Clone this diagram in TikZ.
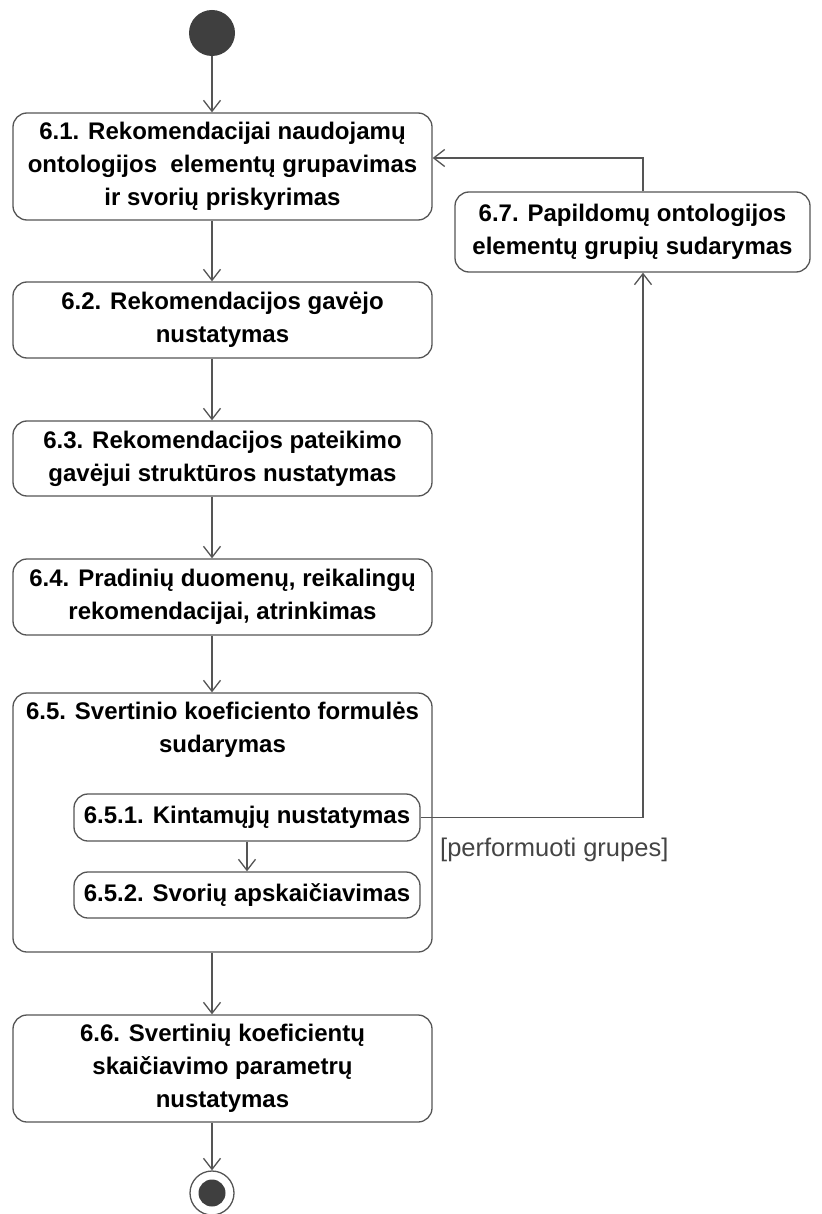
\documentclass[tikz,border=0pt]{standalone}
\usepackage{fontspec}
\setmainfont{Liberation Sans}
\usetikzlibrary{arrows.meta}
\definecolor{linec}{HTML}{555555}
\definecolor{dotc}{HTML}{3F3F3F}
\definecolor{labelc}{HTML}{444444}
\begin{document}
\begin{tikzpicture}[x=1pt,y=-1pt,
  act/.style={draw=linec, line width=1.3pt, rounded corners=14pt, fill=white,
    align=center, inner sep=0pt, font=\bfseries\fontsize{24}{33}\selectfont},
  title/.style={align=center, inner sep=0pt, font=\bfseries\fontsize{24}{33}\selectfont},
  flow/.style={draw=linec, line width=1.3pt, -{Straight Barb[length=11pt,width=17pt,line width=1.3pt]}},
  guard/.style={text=labelc, inner sep=0pt, anchor=base west, font=\fontsize{25.5}{28}\selectfont}
]
\useasboundingbox (0,0) rectangle (821,1214);

% initial and final states
\node (start) [circle, fill=dotc, minimum size=46pt, inner sep=0pt] at (212,33) {};
\node (stop) [circle, draw=linec, line width=1.3pt, fill=white, minimum size=44pt, inner sep=0pt] at (212,1193) {};
\node (stopdot) [circle, fill=dotc, minimum size=27pt, inner sep=0pt] at (212,1193) {};

% activities
\node (b61) [act, minimum width=419pt, minimum height=107pt] at (222.5,166.5)
  {6.1. Rekomendacijai naudojamų\\ontologijos\ \ elementų grupavimas\\ir svorių priskyrimas};
\node (b62) [act, minimum width=419pt, minimum height=76pt] at (222.5,320)
  {6.2. Rekomendacijos gavėjo\\nustatymas};
\node (b63) [act, minimum width=419pt, minimum height=75pt] at (222.5,458.5)
  {6.3. Rekomendacijos pateikimo\\gavėjui struktūros nustatymas};
\node (b64) [act, minimum width=419pt, minimum height=76pt] at (222.5,597)
  {6.4. Pradinių duomenų, reikalingų\\rekomendacijai, atrinkimas};
\node (b65) [act, minimum width=419pt, minimum height=259pt] at (222.5,822.5) {};
\node (t65) [title] at (222.5,730) {6.5. Svertinio koeficiento formulės\\sudarymas};
\node (b651) [act, minimum width=346pt, minimum height=47pt] at (247,817.5)
  {6.5.1. Kintamųjų nustatymas};
\node (b652) [act, minimum width=346pt, minimum height=46pt] at (247,895)
  {6.5.2. Svorių apskaičiavimas};
\node (b66) [act, minimum width=419pt, minimum height=107pt] at (222.5,1068.5)
  {6.6. Svertinių koeficientų\\skaičiavimo parametrų\\nustatymas};
\node (b67) [act, minimum width=355pt, minimum height=80pt] at (632.5,232)
  {6.7. Papildomų ontologijos\\elementų grupių sudarymas};

% control flow
\draw[flow] (start.south) -- (start.south |- b61.north);
\draw[flow] (start.south |- b61.south) -- (start.south |- b62.north);
\draw[flow] (start.south |- b62.south) -- (start.south |- b63.north);
\draw[flow] (start.south |- b63.south) -- (start.south |- b64.north);
\draw[flow] (start.south |- b64.south) -- (start.south |- b65.north);
\draw[flow] (b651.south) -- (b652.north);
\draw[flow] (start.south |- b65.south) -- (start.south |- b66.north);
\draw[flow] (start.south |- b66.south) -- (stop.north);

% regrouping loop
\coordinate (loopx) at (643,0);
\draw[flow] (b651.east) -- (loopx |- b651.east) -- (loopx |- b67.south);
\coordinate (looptop) at (643,158);
\draw[flow] (loopx |- b67.north) -- (looptop) -- (b61.east |- looptop);
\node (g) [guard] at (440,856) {[performuoti grupes]};
\end{tikzpicture}
\end{document}
